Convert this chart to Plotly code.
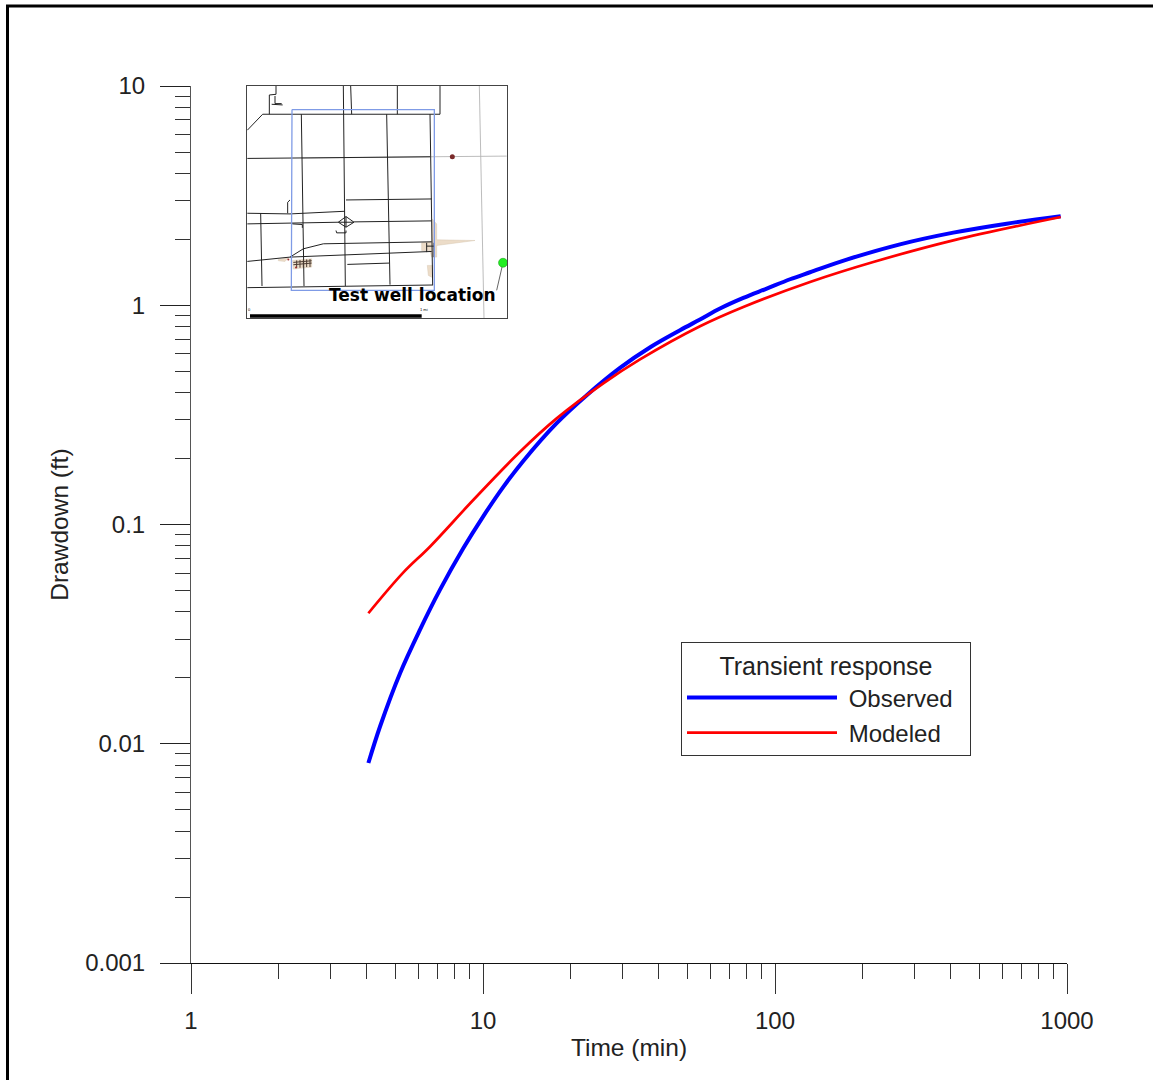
import plotly.graph_objects as go

# ---- chart data ----
obs_time = [4.05,4.44,5.20,6.08,7.12,8.56,10.02,11.74,13.74,17.88,22.66,29.45,37.5,47.29,55.36,64.8,77.9,93.7,112.6,131.8,176.0,267.9,407.9,621.7,951.5]
obs_drawdown = [0.00817,0.01199,0.02099,0.03307,0.05031,0.0779,0.1090,0.1485,0.195,0.290,0.389,0.518,0.645,0.769,0.861,0.966,1.080,1.191,1.314,1.414,1.615,1.896,2.144,2.356,2.544]
mod_time = [4.05,5.33,6.58,9.26,13.39,17.88,25.82,34.49,55.36,77.9,131.8,217.1,407.9,951.5]
mod_drawdown = [0.03938,0.0603,0.0792,0.1293,0.2146,0.3047,0.440,0.566,0.802,0.982,1.277,1.575,1.977,2.525]

x_ticks = [1, 10, 100, 1000]
x_labels = ["1", "10", "100", "1000"]
y_ticks = [0.001, 0.01, 0.1, 1, 10]
y_labels = ["0.001", "0.01", "0.1", "1", "10"]
x_minor = [m * d for d in (1, 10, 100) for m in range(2, 10)]
y_minor = [m * d for d in (0.001, 0.01, 0.1, 1) for m in range(2, 10)]

# ---- inset map geometry, in map units ----
map_roads = [
    [(22,148),(68,100),(600,100),(600,15)],
    [(310,15),(316,617)],
    [(332,15),(335,100)],
    [(472,15),(472,100)],
    [(184,100),(192,617)],
    [(440,100),(450,613)],
    [(570,100),(578,615)],
    [(22,233),(570,228)],
    [(318,358),(575,355)],
    [(22,398),(62,398),(150,400),(315,392)],
    [(22,430),(295,425)],
    [(342,424),(575,421)],
    [(295,425),(318,408),(342,425),(318,440),(295,425)],
    [(295,425),(342,425)],
    [(318,408),(318,440)],
    [(62,398),(66,617)],
    [(22,543),(150,530),(575,513)],
    [(150,530),(190,505),(250,490),(575,484)],
    [(22,622),(578,614)],
    [(322,552),(447,548)],
    [(288,450),(290,457),(318,457),(318,450)],
    [(150,358),(143,365),(143,398)],
    [(88,100),(88,42),(108,40),(108,15)],
    [(105,45),(105,68),(125,68)],
    [(95,70),(112,72),(128,72)],
    [(157,430),(187,432),(187,442)],
    [(560,487),(560,515)],[(582,487),(582,530)],[(560,497),(582,497)],
]
map_gray = [
    [(570,228),(800,226)],
    [(185,232),(570,228)],
    [(718,15),(732,714)],
]
map_study_box = [(156,86),(583,86),(583,630),(154,630),(156,86)]
map_leader = [(789,547),(770,630)]
map_scale = [(30,707),(545,707)]
map_beige = [
    [(545,487),(575,484),(576,415),(590,430),(590,478),(705,480),(590,495),(590,530),(575,530),(570,510),(545,510),(545,487)],
    [(562,555),(578,555),(578,592),(565,585),(562,555)],
    [(158,540),(215,535),(215,560),(160,566),(158,540)],
    [(115,537),(145,532),(135,543),(115,541),(115,537)],
]
map_town_grid = [
    [(170,540),(170,563)],[(180,539),(180,562)],[(190,538),(190,561)],[(200,537),(200,560)],[(210,536),(210,560)],
    [(160,546),(215,541)],[(160,553),(215,548)],
]
well_test = (789, 547)
well_obs = (637, 228)
well_small = [(145,537),(168,561)]

# ---- layout geometry ----
W, H = 1153, 1080
L, R, T, B = 191, 1067, 85.5, 963.5
def px(v): return (v - L) / (R - L)
def py(v): return (B - v) / (B - T)

def flatten(groups):
    xs, ys = [], []
    for g in groups:
        xs += [p[0] for p in g] + [None]
        ys += [p[1] for p in g] + [None]
    return xs, ys

fig = go.Figure()
FONT = "Liberation Sans"

def map_line(groups, color, width):
    xs, ys = flatten(groups)
    fig.add_trace(go.Scatter(x=xs, y=ys, xaxis="x2", yaxis="y2", mode="lines",
                             line=dict(color=color, width=width), showlegend=False, hoverinfo="skip"))

for poly in map_beige:
    fig.add_trace(go.Scatter(x=[p[0] for p in poly], y=[p[1] for p in poly], xaxis="x2", yaxis="y2",
                             mode="lines", fill="toself", fillcolor="#ecdcc8",
                             line=dict(color="#d8c8b4", width=0.5), showlegend=False, hoverinfo="skip"))
map_line(map_gray, "#b4b4b4", 0.9)
map_line(map_roads, "#222222", 1)
map_line(map_town_grid, "#4a3a30", 1)
map_line([map_study_box], "#7f9be6", 1.3)
map_line([map_leader], "#666666", 1)
map_line([map_scale], "#000000", 3.5)
fig.add_trace(go.Scatter(x=[well_obs[0]], y=[well_obs[1]], xaxis="x2", yaxis="y2", mode="markers",
                         marker=dict(color="#7a2a2a", size=5), showlegend=False, hoverinfo="skip"))
fig.add_trace(go.Scatter(x=[p[0] for p in well_small], y=[p[1] for p in well_small], xaxis="x2", yaxis="y2",
                         mode="markers", marker=dict(color="#a03030", size=2), showlegend=False, hoverinfo="skip"))
fig.add_trace(go.Scatter(x=[well_test[0]], y=[well_test[1]], xaxis="x2", yaxis="y2", mode="markers",
                         marker=dict(color="#22ee22", size=9, line=dict(color="#119911", width=0.5)),
                         showlegend=False, hoverinfo="skip"))

fig.add_trace(go.Scatter(x=obs_time, y=obs_drawdown, name="\u00a0Observed\u00a0\u2009", mode="lines", legendgroup="a",
                         line=dict(color="#0000ff", width=4, shape="spline", smoothing=1)))
fig.add_trace(go.Scatter(x=mod_time, y=mod_drawdown, name="\u00a0Modeled\u00a0\u2009", mode="lines", legendgroup="b",
                         line=dict(color="#ff0000", width=2.7, shape="spline", smoothing=1)))

fig.update_layout(
    width=W, height=H, autosize=False,
    margin=dict(l=L, r=W - R, t=T, b=H - B, pad=0),
    paper_bgcolor="white", plot_bgcolor="white",
    font=dict(family=FONT, size=24, color="#222222"),
    xaxis=dict(type="log", range=[0, 3], domain=[0, 1], showgrid=False, zeroline=False,
               showline=True, linecolor="#111111", linewidth=1,
               tickmode="array", tickvals=x_ticks, ticktext=x_labels, ticks="outside", ticklen=30,
               tickwidth=1, tickcolor="#333333", ticklabelstandoff=6,
               minor=dict(tickmode="array", tickvals=x_minor, ticks="outside", ticklen=15, tickwidth=1, tickcolor="#333333", showgrid=False),
               title=dict(text="Time (min)", font=dict(size=24.5), standoff=6)),
    yaxis=dict(type="log", range=[-3, 1], domain=[0, 1], showgrid=False, zeroline=False,
               showline=True, linecolor="#555555", linewidth=1,
               tickmode="array", tickvals=y_ticks, ticktext=y_labels, ticks="outside", ticklen=30,
               tickwidth=1, tickcolor="#222222", ticklabelstandoff=10,
               minor=dict(tickmode="array", tickvals=y_minor, ticks="outside", ticklen=15, tickwidth=1, tickcolor="#333333", showgrid=False),
               title=dict(text="Drawdown (ft)", font=dict(size=24.5), standoff=9)),
    xaxis2=dict(domain=[px(247), px(507)], range=[21, 801], anchor="y2", showgrid=False, zeroline=False,
                showticklabels=False, ticks="", showline=True, mirror=True, linecolor="#444444", linewidth=1),
    yaxis2=dict(domain=[py(318), py(85.5)], range=[714, 15], anchor="x2", showgrid=False, zeroline=False,
                showticklabels=False, ticks="", showline=True, mirror=True, linecolor="#444444", linewidth=1),
    legend=dict(x=px(681), y=py(642), xanchor="left", yanchor="top", bgcolor="white",
                bordercolor="#333333", borderwidth=1, itemwidth=150, tracegroupgap=1,
                font=dict(size=24), title=dict(text="Transient response", side="top center", font=dict(size=25)),
                traceorder="grouped"),
    annotations=[
        dict(x=517, y=645, xref="x2", yref="y2", text="<b>Test well location</b>", showarrow=False,
             font=dict(family="DejaVu Sans", size=17, color="#000000")),
        dict(x=27, y=687, xref="x2", yref="y2", text="0", showarrow=False, font=dict(size=4, color="#000000")),
        dict(x=553, y=687, xref="x2", yref="y2", text="1 mi", showarrow=False, font=dict(size=4, color="#000000")),
    ],
    shapes=[dict(type="rect", xref="paper", yref="paper", x0=px(7.5), x1=px(1200), y0=py(1200), y1=py(5.5),
                 line=dict(color="#000000", width=3), fillcolor="rgba(0,0,0,0)", layer="below")],
)

fig.write_html("out.html", config={"displayModeBar": False}, post_script="document.body.style.margin='0';")
